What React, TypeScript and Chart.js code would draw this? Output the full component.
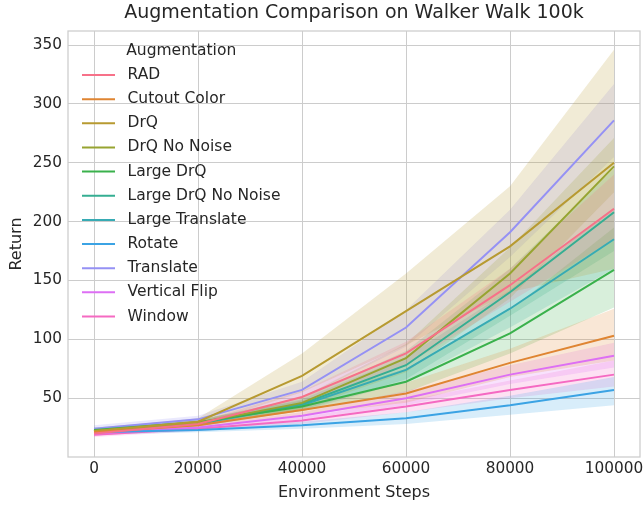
import React, { useEffect, useRef } from "react";
import { Chart, registerables } from "chart.js";

Chart.register(...registerables);

const steps = [0, 20000, 40000, 60000, 80000, 100000];
const xTicks = [0, 20000, 40000, 60000, 80000, 100000];
const yTicks = [50, 100, 150, 200, 250, 300, 350];

const chartTitle = "Augmentation Comparison on Walker Walk 100k";
const legendTitle = "Augmentation";

const seriesNames = [
  "RAD",
  "Cutout Color",
  "DrQ",
  "DrQ No Noise",
  "Large DrQ",
  "Large DrQ No Noise",
  "Large Translate",
  "Rotate",
  "Translate",
  "Vertical Flip",
  "Window",
];

const seriesColors = [
  "#f77189",
  "#df8532",
  "#b79a31",
  "#97a431",
  "#3ab14c",
  "#35ae92",
  "#37abb4",
  "#3ba3e4",
  "#9591f4",
  "#dd6ff4",
  "#f56ac2",
];

// mean / lower / upper of the confidence band per augmentation
const radMean = [20, 28, 51, 88, 146, 211];
const radLow = [18, 26, 46, 78, 132, 185];
const radHigh = [22, 30, 56, 98, 160, 240];

const cutoutMean = [21, 27, 40, 54, 80, 103];
const cutoutLow = [19, 25, 36, 46, 68, 82];
const cutoutHigh = [23, 29, 44, 63, 92, 126];

const drqMean = [22, 30, 69, 124, 179, 250];
const drqLow = [20, 27, 55, 95, 140, 160];
const drqHigh = [24, 33, 88, 156, 230, 346];

const drqNoNoiseMean = [22, 29, 46, 84, 156, 247];
const drqNoNoiseLow = [20, 27, 41, 72, 135, 225];
const drqNoNoiseHigh = [24, 31, 51, 96, 178, 271];

const largeDrqMean = [23, 29.5, 43, 64, 105, 159];
const largeDrqLow = [21, 27, 39, 55, 88, 127];
const largeDrqHigh = [25, 32, 48, 75, 125, 195];

const largeDrqNoNoiseMean = [22, 28.5, 45, 78, 140, 208];
const largeDrqNoNoiseLow = [20, 26, 40, 66, 120, 175];
const largeDrqNoNoiseHigh = [24, 31, 50, 90, 160, 245];

const largeTranslateMean = [22, 28, 44, 74, 126, 185];
const largeTranslateLow = [20, 26, 39, 64, 110, 160];
const largeTranslateHigh = [24, 30, 49, 85, 142, 212];

const rotateMean = [21, 23, 27, 33, 44, 57];
const rotateLow = [19, 21, 24, 28, 36, 44];
const rotateHigh = [23, 25, 30, 38, 52, 68];

const translateMean = [24, 32, 57, 110, 191, 286];
const translateLow = [22, 29, 50, 94, 170, 255];
const translateHigh = [27, 35, 64, 125, 210, 317];

const vflipMean = [20, 25, 35, 50, 70, 86];
const vflipLow = [18, 23, 32, 44, 62, 76];
const vflipHigh = [22, 27, 38, 56, 78, 97];

const windowMean = [19, 24, 31, 43, 57, 70];
const windowLow = [17, 22, 28, 38, 50, 60];
const windowHigh = [21, 26, 34, 48, 65, 82];

const means = [radMean, cutoutMean, drqMean, drqNoNoiseMean, largeDrqMean, largeDrqNoNoiseMean, largeTranslateMean, rotateMean, translateMean, vflipMean, windowMean];
const lows = [radLow, cutoutLow, drqLow, drqNoNoiseLow, largeDrqLow, largeDrqNoNoiseLow, largeTranslateLow, rotateLow, translateLow, vflipLow, windowLow];
const highs = [radHigh, cutoutHigh, drqHigh, drqNoNoiseHigh, largeDrqHigh, largeDrqNoNoiseHigh, largeTranslateHigh, rotateHigh, translateHigh, vflipHigh, windowHigh];

const FONT = "'DejaVu Sans', sans-serif";
const TEXT = "#262626";
const GRID = "#cccccc";

function hexA(hex: string, a: number) {
  const r = parseInt(hex.slice(1, 3), 16);
  const g = parseInt(hex.slice(3, 5), 16);
  const b = parseInt(hex.slice(5, 7), 16);
  return `rgba(${r},${g},${b},${a})`;
}

const pts = (arr: number[]) => arr.map((y, i) => ({ x: steps[i], y }));

const framePlugin = {
  id: "frame",
  afterDatasetsDraw(chart: any) {
    const { ctx, chartArea } = chart;
    ctx.save();
    ctx.strokeStyle = GRID;
    ctx.lineWidth = 1.25;
    ctx.strokeRect(chartArea.left, chartArea.top, chartArea.right - chartArea.left, chartArea.bottom - chartArea.top);
    ctx.restore();
  },
};

const titlePlugin = {
  id: "axesTitle",
  afterDraw(chart: any) {
    const { ctx, chartArea } = chart;
    ctx.save();
    ctx.font = `19px ${FONT}`;
    ctx.fillStyle = TEXT;
    ctx.textAlign = "center";
    ctx.textBaseline = "middle";
    ctx.fillText(chartTitle, (chartArea.left + chartArea.right) / 2, 13);
    ctx.restore();
  },
};

const legendPlugin = {
  id: "innerLegend",
  afterDraw(chart: any) {
    const { ctx } = chart;
    ctx.save();
    ctx.font = `15.5px ${FONT}`;
    const lineX0 = 82;
    const lineX1 = 115;
    const textX = 127.5;
    const row0 = 75;
    const rowH = 24.15;
    let maxEnd = 0;
    seriesNames.forEach((n) => {
      maxEnd = Math.max(maxEnd, textX + ctx.measureText(n).width);
    });
    ctx.fillStyle = TEXT;
    ctx.textBaseline = "middle";
    ctx.textAlign = "center";
    ctx.fillText(legendTitle, (lineX0 + maxEnd) / 2, 50.7);
    ctx.textAlign = "left";
    seriesNames.forEach((n, i) => {
      const y = row0 + i * rowH;
      ctx.strokeStyle = seriesColors[i];
      ctx.lineWidth = 2;
      ctx.beginPath();
      ctx.moveTo(lineX0, y);
      ctx.lineTo(lineX1, y);
      ctx.stroke();
      ctx.fillStyle = TEXT;
      ctx.fillText(n, textX, y);
    });
    ctx.restore();
  },
};

export default function App() {
  const ref = useRef<HTMLCanvasElement | null>(null);
  useEffect(() => {
    if (!ref.current) return;
    const datasets: any[] = [];
    seriesNames.forEach((name, i) => {
      const base = datasets.length;
      datasets.push({
        label: name,
        data: pts(means[i]),
        borderColor: seriesColors[i],
        backgroundColor: seriesColors[i],
        borderWidth: 2,
        pointRadius: 0,
        fill: false,
        order: 0,
      });
      datasets.push({
        label: name + " upper",
        data: pts(highs[i]),
        borderWidth: 0,
        borderColor: "rgba(0,0,0,0)",
        pointRadius: 0,
        backgroundColor: hexA(seriesColors[i], 0.2),
        fill: base + 2,
        order: 1,
      });
      datasets.push({
        label: name + " lower",
        data: pts(lows[i]),
        borderWidth: 0,
        borderColor: "rgba(0,0,0,0)",
        pointRadius: 0,
        fill: false,
        order: 1,
      });
    });

    const chart = new Chart(ref.current, {
      type: "line",
      data: { datasets },
      plugins: [framePlugin, legendPlugin, titlePlugin],
      options: {
        responsive: false,
        animation: false,
        layout: { padding: { left: 0, right: 4, top: 31, bottom: 0 } },
        plugins: {
          legend: { display: false },
          tooltip: { enabled: false },
          title: { display: false },
        },
        scales: {
          x: {
            type: "linear",
            min: -5000,
            max: 105000,
            afterFit: (s: any) => {
              s.height = 49;
              s.paddingRight = 0;
              s.paddingLeft = 0;
            },
            afterBuildTicks: (s: any) => {
              s.ticks = xTicks.map((v) => ({ value: v }));
            },
            grid: { color: GRID, lineWidth: 1, drawTicks: false },
            border: { display: false },
            ticks: {
              color: TEXT,
              font: { family: FONT, size: 15.3 },
              padding: 3,
              maxRotation: 0,
              callback: (v: any) => String(v),
            },
            title: {
              display: true,
              text: "Environment Steps",
              color: TEXT,
              font: { family: FONT, size: 16 },
              padding: { top: 0, bottom: 3.5 },
            },
          },
          y: {
            type: "linear",
            min: 0,
            max: 362,
            afterFit: (s: any) => {
              s.width = 68;
              s.paddingTop = 0;
              s.paddingBottom = 0;
            },
            afterBuildTicks: (s: any) => {
              s.ticks = yTicks.map((v) => ({ value: v }));
            },
            grid: { color: GRID, lineWidth: 1, drawTicks: false },
            border: { display: false },
            ticks: {
              color: TEXT,
              font: { family: FONT, size: 15.3 },
              padding: 6,
              callback: (v: any) => String(v),
            },
            title: {
              display: true,
              text: "Return",
              color: TEXT,
              font: { family: FONT, size: 16 },
              padding: { top: 7.4, bottom: 0 },
            },
          },
        },
      },
    } as any);
    return () => chart.destroy();
  }, []);

  return (
    <div style={{ position: "absolute", left: 0, top: 0, width: 644, height: 506, background: "#fff" }}>
      <canvas ref={ref} width={644} height={506} style={{ width: 644, height: 506, display: "block" }} />
    </div>
  );
}
